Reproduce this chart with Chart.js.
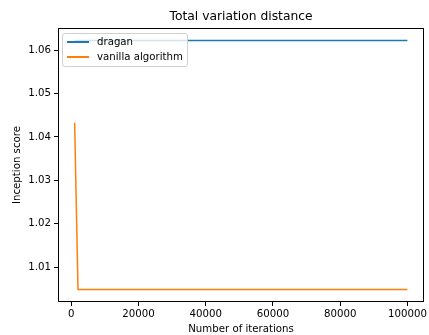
<!DOCTYPE html>
<html>
<head>
<meta charset="utf-8">
<script src="https://cdn.jsdelivr.net/npm/chart.js@4/dist/chart.umd.min.js"></script>
<style>
  html, body { margin: 0; padding: 0; background: #fff; }
  #wrap { position: relative; width: 429px; height: 335px; font-family: "DejaVu Sans", sans-serif; }
  #legend { position: absolute; left: 62px; top: 33px; width: 126px; height: 34px;
    border: 1px solid #d0d0d0; border-radius: 3px; background: rgba(255,255,255,0.8); box-sizing: border-box; }
  .row { position: absolute; left: 0; height: 14px; font-size: 10.2px; color: #000; line-height: 14px; white-space: nowrap; }
  .sw { position: absolute; left: 4px; top: 6px; width: 22px; height: 1.6px; }
  .lbl { position: absolute; left: 34px; top: 0; }
</style>
</head>
<body>
<div id="wrap">
  <canvas id="c" width="429" height="335"></canvas>
  <div id="legend"></div>
</div>
<script>
const titleText = "Total variation distance";
const xTitle = "Number of iterations";
const yTitle = "Inception score";
const seriesNames = ["dragan", "vanilla algorithm"];
const seriesColors = ["#1f77b4", "#ff7f0e"];
const draganX = [1000, 100000];
const draganY = [1.0622, 1.0622];
const vanillaX = [1000, 2000, 100000];
const vanillaY = [1.0433, 1.0049, 1.0049];
const xTickValues = [0, 20000, 40000, 60000, 80000, 100000];
const yTickValues = [1.01, 1.02, 1.03, 1.04, 1.05, 1.06];
const xRange = [-3950, 104950];
const yRange = [1.0020, 1.0651];

const toPts = (xs, ys) => xs.map((x, i) => ({x: x, y: ys[i]}));

const frame = {
  id: 'frame',
  afterDraw(chart) {
    const a = chart.chartArea, ctx = chart.ctx;
    ctx.save();
    ctx.strokeStyle = '#000';
    ctx.lineWidth = 1;
    ctx.strokeRect(Math.round(a.left) + 0.5, Math.round(a.top) + 0.5,
      Math.round(a.right - a.left) - 1, Math.round(a.bottom - a.top) - 1);
    // title centred over the plot area, as matplotlib does
    ctx.fillStyle = '#000';
    ctx.font = '12.3px "DejaVu Sans"';
    ctx.textAlign = 'center';
    ctx.textBaseline = 'middle';
    ctx.fillText(titleText, (a.left + a.right) / 2, 16.5);
    ctx.restore();
  }
};

const font = { family: "DejaVu Sans", size: 10.2 };

new Chart(document.getElementById('c'), {
  type: 'line',
  data: {
    datasets: [
      { label: seriesNames[0], data: toPts(draganX, draganY), borderColor: seriesColors[0], borderWidth: 1.5, pointRadius: 0, fill: false, tension: 0 },
      { label: seriesNames[1], data: toPts(vanillaX, vanillaY), borderColor: seriesColors[1], borderWidth: 1.5, pointRadius: 0, fill: false, tension: 0 }
    ]
  },
  options: {
    responsive: false,
    animation: false,
    devicePixelRatio: 1,
    layout: { padding: { left: 0, right: 3, top: 28, bottom: 0 } },
    plugins: {
      legend: { display: false },
      tooltip: { enabled: false },
      title: { display: false }
    },
    scales: {
      x: {
        type: 'linear', min: xRange[0], max: xRange[1],
        afterBuildTicks: s => { s.ticks = xTickValues.map(v => ({ value: v })); },
        afterFit: s => { s.height = 33; },
        ticks: { color: '#000', font: font, padding: 2, maxRotation: 0, autoSkip: false,
          callback: v => String(v) },
        grid: { display: true, drawOnChartArea: false, drawTicks: true, tickLength: 4, color: '#000' },
        border: { display: false },
        title: { display: true, text: xTitle, color: '#000', font: font, padding: { top: 0, bottom: 0 } }
      },
      y: {
        type: 'linear', min: yRange[0], max: yRange[1],
        afterBuildTicks: s => { s.ticks = yTickValues.map(v => ({ value: v })); },
        afterFit: s => { s.width = 58; },
        ticks: { color: '#000', font: font, padding: 3, autoSkip: false,
          callback: v => v.toFixed(2) },
        grid: { display: true, drawOnChartArea: false, drawTicks: true, tickLength: 4, color: '#000' },
        border: { display: false },
        title: { display: true, text: yTitle, color: '#000', font: font, padding: { top: 11.5, bottom: 0 } }
      }
    }
  },
  plugins: [frame]
});

const legend = document.getElementById('legend');
seriesNames.forEach((name, i) => {
  const row = document.createElement('div');
  row.className = 'row';
  row.style.top = (1 + i * 15) + 'px';
  row.style.width = '100%';
  const sw = document.createElement('div');
  sw.className = 'sw';
  sw.style.background = seriesColors[i];
  const lbl = document.createElement('span');
  lbl.className = 'lbl';
  lbl.textContent = name;
  row.appendChild(sw);
  row.appendChild(lbl);
  legend.appendChild(row);
});
</script>
</body>
</html>
